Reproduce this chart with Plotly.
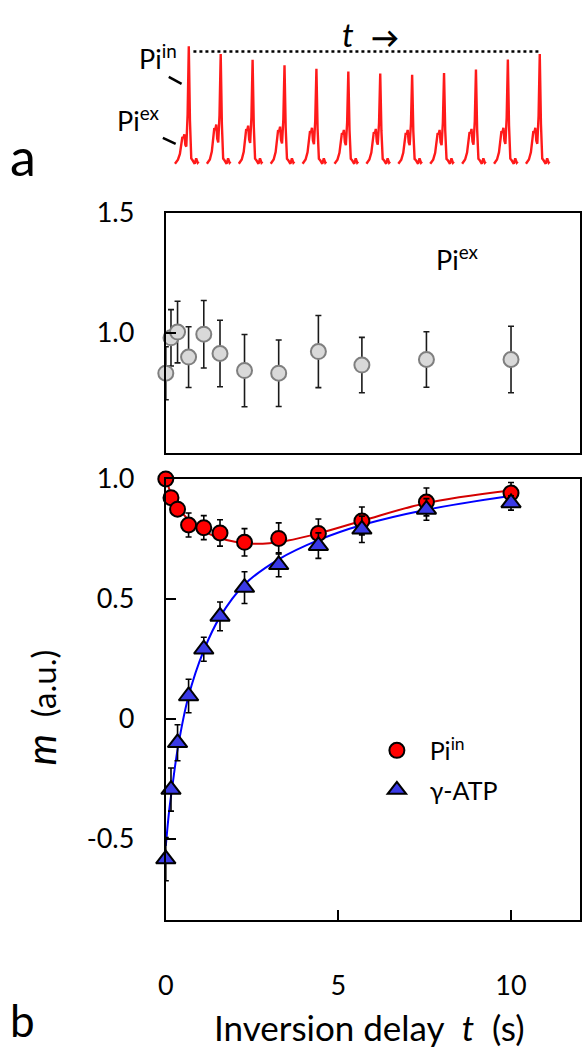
import plotly.graph_objects as go

# ---------------- data ----------------
# inversion delays (s)
t_delay = [0, 0.15, 0.34, 0.66, 1.1, 1.57, 2.28, 3.27, 4.42, 5.68, 7.55, 10]

# Pi_ex (middle panel)
pi_ex = [0.833, 0.98, 1.004, 0.90, 0.995, 0.915, 0.844, 0.833, 0.923, 0.867, 0.89, 0.89]
pi_ex_err = [0.11, 0.117, 0.128, 0.126, 0.14, 0.138, 0.15, 0.138, 0.15, 0.115, 0.115, 0.138]

# Pi_in (bottom panel)
pi_in = [1.0, 0.922, 0.874, 0.808, 0.797, 0.775, 0.736, 0.752, 0.773, 0.825, 0.904, 0.941]
pi_in_err = [0.0, 0.012, 0.022, 0.05, 0.05, 0.055, 0.057, 0.065, 0.06, 0.058, 0.058, 0.044]

# gamma-ATP (bottom panel)
atp = [-0.585, -0.295, -0.10, 0.095, 0.29, 0.427, 0.547, 0.642, 0.722, 0.79, 0.873, 0.90]
atp_err = [0.09, 0.09, 0.075, 0.07, 0.05, 0.06, 0.066, 0.05, 0.053, 0.055, 0.045, 0.03]

# fitted curves
fit_t_in = [0, 0.15, 0.35, 0.65, 1.0, 1.5, 2.0, 2.5, 3.0, 3.5, 4.4, 5.7, 7.5, 10]
fit_in = [1.0, 0.94, 0.885, 0.83, 0.79, 0.757, 0.738, 0.73, 0.732, 0.742, 0.772, 0.826, 0.898, 0.952]
fit_t_atp = [0, 0.1, 0.2, 0.35, 0.65, 1.1, 1.57, 2.28, 3.27, 4.42, 5.68, 7.55, 10]
fit_atp = [-0.53, -0.38, -0.27, -0.12, 0.09, 0.285, 0.425, 0.56, 0.665, 0.745, 0.808, 0.872, 0.93]

# spectra (panel a): peak heights of each of the 12 spectra, relative units
spec_in = [1.0, 0.91, 0.86, 0.81, 0.78, 0.76, 0.74, 0.73, 0.745, 0.775, 0.865, 0.915]
spec_ex = [0.24, 0.33, 0.32, 0.31, 0.30, 0.28, 0.29, 0.28, 0.28, 0.29, 0.30, 0.30]
# one-multiplet line-shape template (offset in pixels of the original)
tmpl_dx = [-14, -11, -9, -7.5, -6.5, -5.5, -4.5, -3.5, -2.5, -1.2, 0, 1.2, 2.5, 4, 6, 7.5, 9, 10]
tmpl_ex = [0, 0.03, 0.25, 0.7, 0.9, 0.85, 1.0, 0.6, 0.45, 0.3, 0.2, 0.05, 0, 0, 0, 0, 0, 0]
tmpl_in = [0, 0, 0, 0, 0, 0, 0, 0, 0.02, 0.35, 1.0, 0.35, 0.02, 0, 0, 0, 0, 0]
tmpl_base = [-0.03, 0, 0, 0, 0, 0, 0, 0, 0, 0, 0, 0, 0, 0, -0.03, 0.02, -0.02, -0.01]
SPACING_PX = 32.35

W, H = 584, 1050
FONT = "Lato"


def px(xp):
    return xp / W


def py(yp):
    return (H - yp) / H


# build spectrum line
sx, sy = [], []
for i, (hi, hx) in enumerate(zip(spec_in, spec_ex)):
    for dx, e, c, b in zip(tmpl_dx, tmpl_ex, tmpl_in, tmpl_base):
        sx.append(i + dx / SPACING_PX)
        sy.append(hi * c + hx * e + b)
    sx.append(None)
    sy.append(None)

fig = go.Figure()

# ---- panel a: spectra ----
fig.add_trace(go.Scatter(x=sx, y=sy, mode="lines", xaxis="x3", yaxis="y3",
                         line=dict(color="#ff1a1a", width=2.4), showlegend=False,
                         hoverinfo="skip"))

# ---- middle panel: Pi_ex ----
fig.add_trace(go.Scatter(x=t_delay, y=pi_ex, mode="markers", xaxis="x2", yaxis="y2",
                         error_y=dict(type="data", array=pi_ex_err, color="#1a1a1a",
                                      thickness=1.6, width=3),
                         marker=dict(symbol="circle", size=15, color="#d9d9d9",
                                     line=dict(color="#7f7f7f", width=2)),
                         showlegend=False, cliponaxis=False))

# ---- bottom panel ----
fig.add_trace(go.Scatter(x=fit_t_atp, y=fit_atp, mode="lines", line_shape="spline",
                         line=dict(color="#0000ff", width=2), showlegend=False,
                         hoverinfo="skip", xaxis="x", yaxis="y"))
fig.add_trace(go.Scatter(x=fit_t_in, y=fit_in, mode="lines", line_shape="spline",
                         line=dict(color="#d40000", width=2), showlegend=False,
                         hoverinfo="skip", xaxis="x", yaxis="y"))
fig.add_trace(go.Scatter(x=t_delay, y=pi_in, mode="markers",
                         name="\u00a0\u00a0Pi<sup>in</sup>",
                         legendgroup="a",
                         error_y=dict(type="data", array=pi_in_err, color="black",
                                      thickness=1.6, width=3),
                         marker=dict(symbol="circle", size=15, color="#ff0000",
                                     line=dict(color="black", width=2)),
                         cliponaxis=False, xaxis="x", yaxis="y"))
fig.add_trace(go.Scatter(x=t_delay, y=atp, mode="markers",
                         name="\u00a0\u00a0\u03b3-ATP",
                         legendgroup="b",
                         error_y=dict(type="data", array=atp_err, color="black",
                                      thickness=1.6, width=3),
                         marker=dict(symbol="triangle-up", size=17, color="#3a3ae6",
                                     line=dict(color="black", width=2)),
                         cliponaxis=False, xaxis="x", yaxis="y"))

axis_common = dict(showline=True, linecolor="black", linewidth=2, mirror=True,
                   showgrid=False, zeroline=False, ticks="inside", ticklen=10,
                   tickwidth=2, tickcolor="black",
                   tickfont=dict(family=FONT, size=27, color="black"))

fig.update_layout(
    width=W, height=H,
    margin=dict(l=0, r=0, t=0, b=0),
    paper_bgcolor="white", plot_bgcolor="white",
    font=dict(family=FONT, color="black"),
    xaxis=dict(axis_common, domain=[px(160), px(580)], range=[0, 12],
               tickvals=[0, 5, 10], ticktext=["0", "5", "10"],
               ticklabelstandoff=40, anchor="y"),
    yaxis=dict(axis_common, domain=[py(918), py(469)], range=[-0.84, 1.0],
               tickvals=[-0.5, 0, 0.5, 1.0], ticktext=["-0.5", "0", "0.5", "1.0"],
               ticklabelstandoff=24, anchor="x"),
    xaxis2=dict(axis_common, domain=[px(160), px(580)], range=[0, 12],
                ticks="", showticklabels=False, anchor="y2"),
    yaxis2=dict(axis_common, domain=[py(443), py(198)], range=[0.5, 1.5],
                tickvals=[1.0, 1.5], ticktext=["1.0", "1.5"],
                ticklabelstandoff=24, anchor="x2"),
    xaxis3=dict(domain=[0, 1], range=[-183.3 / SPACING_PX, (W - 183.3) / SPACING_PX],
                visible=False, anchor="y3"),
    yaxis3=dict(domain=[py(165), py(15)], range=[(145 - 165) / 111, (145 - 15) / 111],
                visible=False, anchor="x3"),
    legend=dict(x=px(374), y=py(722), xanchor="left", yanchor="top",
                font=dict(family=FONT, size=25, color="black"),
                bgcolor="rgba(0,0,0,0)", tracegroupgap=4, itemsizing="trace"),
    showlegend=True,
)

# dotted reference line across spectrum tops
fig.add_shape(type="line", xref="x3", yref="y3",
              x0=(188 - 183.3) / SPACING_PX, x1=(540 - 183.3) / SPACING_PX,
              y0=spec_in[0], y1=spec_in[0],
              line=dict(color="black", width=2.5, dash="dot"))
# small pointer strokes
fig.add_shape(type="line", xref="paper", yref="paper", x0=px(163), y0=py(60),
              x1=px(176), y1=py(67), line=dict(color="black", width=2.5))
fig.add_shape(type="line", xref="paper", yref="paper", x0=px(157), y0=py(122),
              x1=px(170), y1=py(128), line=dict(color="black", width=2.5))

ann = [
    dict(text="a", x=px(0), y=py(140), xanchor="left", yanchor="middle", font=dict(size=52)),
    dict(text="b", x=px(0), y=py(1048), xanchor="left", yanchor="bottom", font=dict(size=44)),
    dict(text="Pi<sup>in</sup>", x=px(131), y=py(40), xanchor="left", yanchor="middle",
         font=dict(size=27)),
    dict(text="Pi<sup>ex</sup>", x=px(108), y=py(103), xanchor="left", yanchor="middle",
         font=dict(size=27)),
    dict(text="<i>t</i>", x=px(337), y=py(16), xanchor="left", yanchor="middle",
         font=dict(size=33)),
    dict(text="<b>\u2192</b>", x=px(366), y=py(19), xanchor="left", yanchor="middle",
         font=dict(size=28)),
    dict(text="Pi<sup>ex</sup>", x=px(455), y=py(244), xanchor="center", yanchor="middle",
         font=dict(size=27)),
    dict(text="<span style='font-size:40px'><i>m</i></span>  (a.u.)", x=px(33), y=py(702),
         xanchor="center", yanchor="middle", textangle=-90, font=dict(size=33)),
    dict(text="Inversion delay  <i>t</i>  (s)", x=px(366), y=py(1027), xanchor="center",
         yanchor="middle", font=dict(size=35)),
]
for a in ann:
    a.update(xref="paper", yref="paper", showarrow=False)
    a["font"] = dict(family=FONT, color="black", **a["font"])
    fig.add_annotation(**a)

fig.write_html("out.html",
               config={"displayModeBar": False},
               post_script="document.body.style.margin='0px';"
                           "document.body.style.overflow='hidden';")
